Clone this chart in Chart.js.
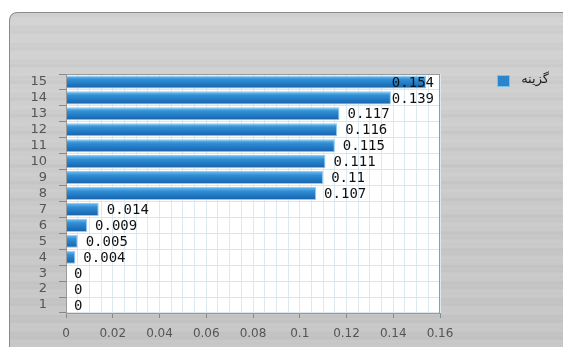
<!DOCTYPE html>
<html>
<head>
<meta charset="utf-8">
<script src="https://cdn.jsdelivr.net/npm/chart.js@4"></script>
<style>
  body { margin: 0; background: #fff; }
  canvas { display: block; }
</style>
</head>
<body>
<canvas id="chart" width="563" height="347"></canvas>
<script>
// Chart data
var categories = ['1', '2', '3', '4', '5', '6', '7', '8', '9', '10', '11', '12', '13', '14', '15'];
var values = [0, 0, 0, 0.004, 0.005, 0.009, 0.014, 0.107, 0.11, 0.111, 0.115, 0.116, 0.117, 0.139, 0.154];
var seriesName = 'گزینه';
var xMin = 0, xMax = 0.16, xMajor = 0.02, xMinor = 0.005;

var barGradients = [];

// Brushed metal panel behind everything
var panelPlugin = {
    id: 'panel',
    beforeDraw: function(chart) {
        var ctx = chart.ctx;
        ctx.save();
        ctx.fillStyle = '#fff';
        ctx.fillRect(0, 0, chart.width, chart.height);
        var x = 9, y = 12, r = 9;
        ctx.beginPath();
        ctx.moveTo(x, chart.height + 5);
        ctx.lineTo(x, y + r);
        ctx.quadraticCurveTo(x, y, x + r, y);
        ctx.lineTo(chart.width + 5, y);
        ctx.lineTo(chart.width + 5, chart.height + 5);
        ctx.closePath();
        var g = ctx.createLinearGradient(0, y, 0, chart.height);
        g.addColorStop(0, '#d3d3d3');
        g.addColorStop(0.5, '#cbcbcb');
        g.addColorStop(1, '#c6c6c6');
        ctx.fillStyle = g;
        ctx.fill();
        ctx.clip();
        // faint streaks
        for (var yy = y; yy < chart.height; yy += 1) {
            var s = Math.sin(yy * 0.37) + Math.sin(yy * 1.13) * 0.6;
            ctx.fillStyle = s > 0 ? 'rgba(255,255,255,' + (s * 0.04).toFixed(3) + ')' : 'rgba(0,0,0,' + (-s * 0.02).toFixed(3) + ')';
            ctx.fillRect(x, yy, chart.width, 1);
        }
        ctx.restore();
        ctx.save();
        ctx.beginPath();
        ctx.moveTo(x + 0.5, chart.height + 5);
        ctx.lineTo(x + 0.5, y + r);
        ctx.quadraticCurveTo(x + 0.5, y + 0.5, x + r, y + 0.5);
        ctx.lineTo(chart.width + 5, y + 0.5);
        ctx.strokeStyle = '#8a8a8a';
        ctx.lineWidth = 1;
        ctx.stroke();
        // white plot area
        var a = chart.chartArea;
        ctx.fillStyle = '#ffffff';
        ctx.fillRect(a.left, a.top, a.right - a.left, a.bottom - a.top);
        ctx.restore();
    },
    afterLayout: function(chart) {
        var ys = chart.scales.y;
        var ctx = chart.ctx;
        barGradients = [];
        for (var i = 0; i < categories.length; i++) {
            var c = ys.getPixelForValue(i);
            var g = ctx.createLinearGradient(0, c - 6, 0, c + 6);
            g.addColorStop(0, '#6cbcef');
            g.addColorStop(0.3, '#2f8fd6');
            g.addColorStop(1, '#1763ac');
            barGradients.push(g);
        }
    },
    afterDraw: function(chart) {
        var ctx = chart.ctx;
        var a = chart.chartArea;
        ctx.save();
        ctx.strokeStyle = '#9a9a9a';
        ctx.lineWidth = 1;
        ctx.strokeRect(a.left + 0.5, a.top + 0.5, a.right - a.left - 1, a.bottom - a.top);
        // value labels
        var meta = chart.getDatasetMeta(0);
        ctx.font = '14px "DejaVu Sans Mono"';
        ctx.fillStyle = '#111';
        ctx.textBaseline = 'middle';
        meta.data.forEach(function(bar, i) {
            var txt = String(values[i]);
            var w = ctx.measureText(txt).width;
            var tx = Math.min(bar.x + 8, a.right - w - 6);
            ctx.fillText(txt, tx, bar.y + 1);
        });
        // legend
        ctx.fillStyle = '#2a85cf';
        ctx.fillRect(497, 75, 13, 12);
        ctx.strokeStyle = '#7cc0ee';
        ctx.strokeRect(497.5, 75.5, 12, 11);
        ctx.fillStyle = '#222';
        ctx.font = '13px "DejaVu Sans"';
        ctx.direction = 'rtl';
        ctx.textAlign = 'right';
        ctx.fillText(seriesName, 549, 80);
        ctx.restore();
    }
};

var chart = new Chart(document.getElementById('chart'), {
    type: 'bar',
    data: {
        labels: categories,
        datasets: [{
            label: seriesName,
            data: values,
            backgroundColor: function(c) { return barGradients[c.dataIndex] || '#2a85cf'; },
            borderColor: '#8fcaf2',
            borderWidth: 1,
            borderSkipped: 'left',
            barPercentage: 0.82,
            categoryPercentage: 1
        }]
    },
    options: {
        indexAxis: 'y',
        responsive: false,
        animation: false,
        layout: { padding: { left: 28, top: 74, right: 123, bottom: 4 } },
        plugins: {
            legend: { display: false },
            tooltip: { enabled: false }
        },
        scales: {
            x: {
                min: xMin,
                max: xMax,
                ticks: {
                    stepSize: xMinor,
                    autoSkip: false,
                    maxRotation: 0,
                    color: '#555',
                    font: { family: 'DejaVu Sans', size: 12 },
                    padding: 9,
                    callback: function(v) {
                        var k = Math.round(v / xMinor);
                        if (k % 4 !== 0) return '';
                        return String(Math.round(v * 1000) / 1000);
                    }
                },
                grid: {
                    color: '#dde9f1',
                    tickLength: 5,
                    tickColor: function(c) {
                        var k = Math.round(c.tick.value / xMinor);
                        return k % 4 === 0 ? '#888' : 'rgba(0,0,0,0)';
                    }
                },
                border: { color: '#999' },
                afterFit: function(s) { s.height = 30; }
            },
            y: {
                reverse: true,
                ticks: {
                    autoSkip: false,
                    color: '#555',
                    font: { family: 'DejaVu Sans', size: 13 },
                    padding: 12
                },
                grid: {
                    offset: true,
                    color: '#dde5ea',
                    tickLength: 7,
                    tickColor: '#888'
                },
                border: { color: '#999' },
                afterFit: function(s) { s.width = 38; }
            }
        }
    },
    plugins: [panelPlugin]
});
</script>
</body>
</html>
